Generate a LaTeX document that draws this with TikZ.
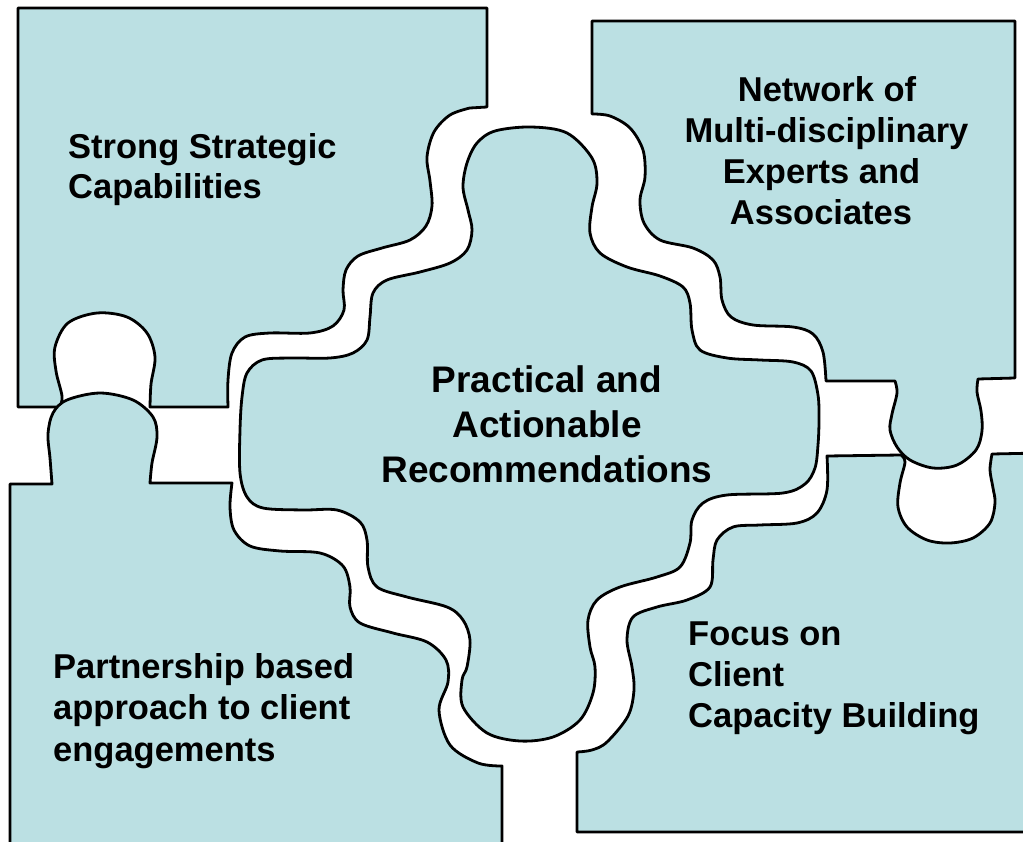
\documentclass[tikz,border=0pt]{standalone}
\usepackage{fontspec}
\setmainfont{Liberation Sans}
\definecolor{piecefill}{RGB}{187,224,227}
\tikzset{
  piece/.style={fill=piecefill, draw=black, line width=2.8pt, line join=round},
  lab/.style={font=\fontsize{34.5}{40}\selectfont\bfseries, inner sep=0pt, anchor=base west},
  labc/.style={font=\fontsize{34.5}{40}\selectfont\bfseries, inner sep=0pt, anchor=base},
  labm/.style={font=\fontsize{37}{45}\selectfont\bfseries, inner sep=0pt, anchor=base},
}
\begin{document}
\begin{tikzpicture}[x=1pt,y=-1pt]
\useasboundingbox (0,0) rectangle (1023,842);
\clip (0,0) rectangle (1023,842);
% top-left piece
\draw[piece] (18,8) -- (487,8) -- (487,107) -- plot[smooth,tension=0.55] coordinates {(470,108) (450,115) (434,132) (427,157) (430,181) (432,206) (426,226) (410,240) (382,248) (358,256) (346,270) (343,290) (344,310) (333,326) (310,333) (270,333) (245,337) (232,353) (228,380) (228,407)} -- plot[smooth,tension=0.55] coordinates {(150,407) (151,384) (155,357) (147,333) (127,317) (97,313) (68,323) (55,347) (56,371) (62,396) (60,407)} -- (18,407) -- cycle;
% top-right piece
\draw[piece] (592,21) -- (1015,21) -- (1015,378) -- plot[smooth,tension=0.55] coordinates {(978,379) (977,392) (981,411) (982,431) (976,450) (957,465) (933,468) (910,460) (897,447) (890,430) (892,414) (897,393) (895,381)} -- plot[smooth,tension=0.55] coordinates {(826,381) (823,352) (813,334) (793,327) (753,325) (731,317) (722,300) (720,277) (713,260) (693,248) (660,240) (644,223) (640,200) (645,177) (643,150) (630,128) (610,116) (592,114)} -- cycle;
% bottom-left piece
\draw[piece] (10,860) -- (10,484) -- plot[smooth,tension=0.55] coordinates {(52,484) (50,458) (48,434) (53,413) (67,400) (100,393) (133,400) (153,417) (157,437) (152,463) (150,483)} -- plot[smooth,tension=0.55] coordinates {(232,483) (230,507) (234,530) (250,546) (280,551) (320,553) (343,566) (350,587) (350,607) (360,623) (393,633) (427,642) (446,660) (448,682) (439,710) (450,745) (478,763) (502,766)} -- (502,860) -- cycle;
% bottom-right piece
\draw[piece] (577,752) -- (577,832) -- (1040,832) -- (1040,453) -- plot[smooth,tension=0.55] coordinates {(992,454) (990,470) (993,488) (995,503) (990,523) (973,538) (950,543) (927,540) (907,527) (898,507) (900,483) (905,462) (901,455)} -- plot[smooth,tension=0.55] coordinates {(827,456) (827,490) (817,513) (797,523) (760,525) (733,527) (717,540) (713,560) (710,587) (687,600) (657,607) (633,617) (627,640) (632,667) (634,690) (628,716) (607,742) (592,750) (577,752)} -- cycle;
% centre piece
\draw[piece] plot[smooth cycle,tension=0.55] coordinates {(531,127) (567,133) (592,158) (597,183) (592,207) (590,233) (600,253) (627,267) (660,276) (683,287) (690,303) (692,330) (700,350) (727,358) (760,360) (793,362) (811,371) (818,395) (819,420) (818,445) (815,468) (805,484) (783,493) (727,495) (703,503) (692,520) (690,543) (680,567) (657,577) (620,587) (597,600) (588,620) (590,647) (595,667) (593,693) (580,720) (553,737) (520,741) (487,733) (463,707) (462,680) (467,667) (470,640) (463,620) (447,607) (407,597) (377,587) (368,567) (367,540) (360,522) (337,510) (303,510) (263,508) (247,497) (240,473) (240,430) (242,397) (247,373) (262,360) (290,358) (330,358) (353,353) (367,340) (370,317) (373,293) (387,280) (420,272) (450,263) (467,250) (472,230) (468,210) (463,187) (467,163) (477,143) (495,131)};
% texts
\node[lab] (tl1) at (68,158.5) {Strong Strategic};
\node[lab] (tl2) at (68,198.5) {Capabilities};
\node[labc] (tr1) at (827,102) {Network of};
\node[labc] (tr2) at (826.5,143) {Multi-disciplinary};
\node[labc] (tr3) at (821.5,184) {Experts and};
\node[labc] (tr4) at (821,225) {Associates};
\node[labm] (c1) at (547,392) {Practical and};
\node[labm] (c2) at (547,437) {Actionable};
\node[labm] (c3) at (547,482) {Recommendations};
\node[lab] (bl1) at (53,678) {Partnership based};
\node[lab] (bl2) at (53,719.5) {approach to client};
\node[lab] (bl3) at (53,761) {engagements};
\node[lab] (br1) at (688,645) {Focus on};
\node[lab] (br2) at (688,686) {Client};
\node[lab] (br3) at (688,727) {Capacity Building};
\end{tikzpicture}
\end{document}
